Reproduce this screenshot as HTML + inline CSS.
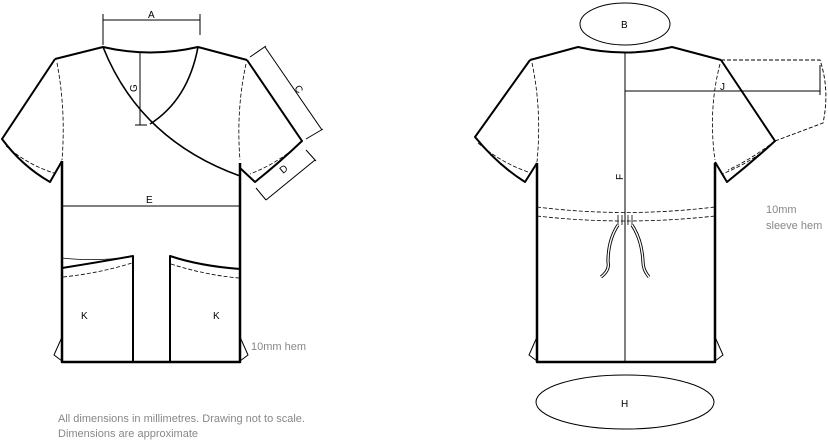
<!DOCTYPE html>
<html><head><meta charset="utf-8"><style>
html,body{margin:0;padding:0;background:#fff;}
svg{display:block;}
text{font-family:"Liberation Sans",sans-serif;}
</style></head><body>
<svg width="828" height="440" viewBox="0 0 828 440" xmlns="http://www.w3.org/2000/svg">
<g fill="none" stroke="#000" stroke-linejoin="round">
<!-- FRONT -->
<!-- A -->
<path d="M103 20H200M103 14V45M200 14V35" stroke-width="1"/>
<!-- neckline & shoulders -->
<path d="M55 59L103 47Q150 58 198 47L247 60" stroke-width="2"/>
<!-- left sleeve -->
<path d="M55 59L2 139Q22 166 50 182L62 161" stroke-width="2"/>
<path d="M6 146Q28 165 54 173" stroke-width="0.8" stroke-dasharray="4 2"/>
<path d="M57 63Q66 110 62 160" stroke-width="0.8" stroke-dasharray="4 2"/>
<!-- right sleeve -->
<path d="M247 60L302 141Q280 162 255 182L240 168" stroke-width="2"/>
<path d="M297 146Q276 164 250 174" stroke-width="0.8" stroke-dasharray="4 2"/>
<path d="M246 64Q236 110 240 160" stroke-width="0.8" stroke-dasharray="4 2"/>
<!-- body -->
<path d="M62 161V362H240V163" stroke-width="2.5"/>
<!-- wrap -->
<path d="M103 47Q140 140 240 176" stroke-width="1.6"/>
<path d="M198 47Q188 100 150 124" stroke-width="1.6"/>
<!-- G -->
<path d="M140 53V125M135 125H147" stroke-width="1"/>
<!-- C -->
<path d="M265 47L322 130M250 57L266 46M306 139L323 129" stroke-width="1"/>
<!-- D -->
<path d="M315 160L266 200M306 150L316 161M256 188L266 200" stroke-width="1"/>
<!-- E -->
<path d="M62 206H240" stroke-width="1"/>
<!-- pockets -->
<path d="M62 258Q100 262 133 256" stroke-width="0.8"/>
<path d="M62 268Q100 262 133 256V362" stroke-width="2"/>
<path d="M63 277Q100 273 132 263" stroke-width="0.8" stroke-dasharray="4 2"/>
<path d="M170 362V256Q200 266 240 269" stroke-width="2"/>
<path d="M171 264Q205 275 239 278" stroke-width="0.8" stroke-dasharray="4 2"/>
<!-- slits -->
<path d="M62 337L54 355L62 361M240 337L248 355L240 361" stroke-width="1"/>

<!-- BACK -->
<ellipse cx="625" cy="24" rx="45" ry="21" stroke-width="1"/>
<path d="M530 60L578 47Q625 58 672 47L721 60" stroke-width="2"/>
<path d="M530 60L475 137Q498 165 525 182L537 163" stroke-width="2"/>
<path d="M478 143Q500 162 528 172" stroke-width="0.8" stroke-dasharray="4 2"/>
<path d="M532 63Q542 110 537 162" stroke-width="0.8" stroke-dasharray="4 2"/>
<path d="M721 60L775 141Q752 162 727 182L715 162" stroke-width="2"/>
<path d="M770 146Q748 164 722 174" stroke-width="0.8" stroke-dasharray="4 2"/>
<path d="M720 64Q708 110 715 160" stroke-width="0.8" stroke-dasharray="4 2"/>
<path d="M537 163V362H715V163" stroke-width="2.5"/>
<!-- F -->
<path d="M625 53V362" stroke-width="1"/>
<!-- J -->
<path d="M625 91H820M820 65V95" stroke-width="1"/>
<path d="M721 60H820Q830 90 823 123L775 141" stroke-width="0.9" stroke-dasharray="4 2"/>
<path d="M775 141Q750 160 728 170" stroke-width="0.8" stroke-dasharray="4 2"/>
<!-- waist -->
<path d="M537 207Q625 218 715 207M537 216Q625 226 715 216" stroke-width="0.8" stroke-dasharray="4 2"/>
<path d="M618 215V225M622 215V225M628 215V225M632 215V225" stroke-width="0.8"/>
<!-- cords -->
<path d="M618 225Q608 240 608 262Q610 270 601 277" stroke-width="3.2"/>
<path d="M618 225Q608 240 608 262Q610 270 601 277" stroke="#fff" stroke-width="1.4"/>
<path d="M632 225Q642 240 643 262Q643 270 649 277" stroke-width="3.2"/>
<path d="M632 225Q642 240 643 262Q643 270 649 277" stroke="#fff" stroke-width="1.4"/>
<!-- slits -->
<path d="M537 337L529 355L537 361M715 337L723 355L715 361" stroke-width="1"/>
<ellipse cx="625" cy="402" rx="89" ry="27" stroke-width="1"/>
</g>
<g font-size="10" fill="#000">
<text x="148" y="18">A</text>
<text x="146" y="203">E</text>
<text x="81" y="319">K</text>
<text x="213" y="319">K</text>
<text transform="translate(137 92) rotate(-90)">G</text>
<text transform="translate(294 88) rotate(56)">C</text>
<text transform="translate(283 174) rotate(-40)">D</text>
<text x="621" y="28">B</text>
<text x="720" y="90">J</text>
<text transform="translate(623 180) rotate(-90)">F</text>
<text x="621" y="407">H</text>
</g>
<g font-size="11" fill="#888">
<text x="251" y="350">10mm hem</text>
<text x="766" y="213">10mm</text>
<text x="766" y="229">sleeve hem</text>
<text x="58" y="422">All dimensions in millimetres. Drawing not to scale.</text>
<text x="58" y="437">Dimensions are approximate</text>
</g>
</svg>
</body></html>
